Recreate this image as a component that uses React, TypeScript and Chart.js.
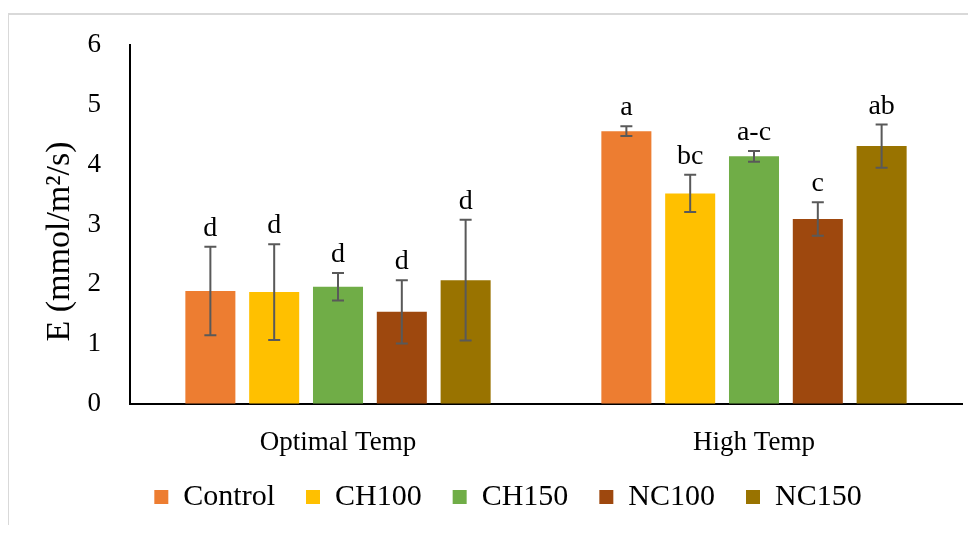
import React, { useEffect, useRef } from "react";
import { Chart, registerables } from "chart.js";

Chart.register(...registerables);

const categories = ["Optimal Temp", "High Temp"];
const seriesNames = ["Control", "CH100", "CH150", "NC100", "NC150"];
const seriesColors = ["#ED7D31", "#FFC000", "#70AD47", "#9E480E", "#997300"];
const controlValues = [1.89, 4.56];
const ch100Values = [1.87, 3.52];
const ch150Values = [1.96, 4.14];
const nc100Values = [1.54, 3.09];
const nc150Values = [2.07, 4.31];
const controlErr = [0.74, 0.08];
const ch100Err = [0.8, 0.31];
const ch150Err = [0.23, 0.09];
const nc100Err = [0.53, 0.28];
const nc150Err = [1.01, 0.36];
const controlLetters = ["d", "a"];
const ch100Letters = ["d", "bc"];
const ch150Letters = ["d", "a-c"];
const nc100Letters = ["d", "c"];
const nc150Letters = ["d", "ab"];
const yTicks = [0, 1, 2, 3, 4, 5, 6];

const allValues = [controlValues, ch100Values, ch150Values, nc100Values, nc150Values];
const allErrors = [controlErr, ch100Err, ch150Err, nc100Err, nc150Err];
const allLetters = [controlLetters, ch100Letters, ch150Letters, nc100Letters, nc150Letters];

const FONT = '"Liberation Serif", "Times New Roman", serif';

const errorBarPlugin = {
  id: "errorBars",
  afterDatasetsDraw(chart: any) {
    const ctx = chart.ctx;
    const yScale = chart.scales.y;
    chart.data.datasets.forEach((ds: any, di: number) => {
      const meta = chart.getDatasetMeta(di);
      meta.data.forEach((bar: any, i: number) => {
        const v = ds.data[i];
        const e = allErrors[di][i];
        const x = bar.x;
        const yt = yScale.getPixelForValue(v + e);
        const yb = yScale.getPixelForValue(v - e);
        ctx.save();
        ctx.strokeStyle = "#595959";
        ctx.lineWidth = 2;
        ctx.beginPath();
        ctx.moveTo(x, yt);
        ctx.lineTo(x, yb);
        ctx.moveTo(x - 6, yt);
        ctx.lineTo(x + 6, yt);
        ctx.moveTo(x - 6, yb);
        ctx.lineTo(x + 6, yb);
        ctx.stroke();
        ctx.font = `28px ${FONT}`;
        ctx.fillStyle = "#000";
        ctx.textAlign = "center";
        ctx.textBaseline = "alphabetic";
        ctx.fillText(allLetters[di][i], x, yt - 11);
        ctx.restore();
      });
    });
  },
};

export default function App() {
  const ref = useRef<HTMLCanvasElement | null>(null);
  useEffect(() => {
    if (!ref.current) return;
    Chart.defaults.font.family = FONT;
    const chart = new Chart(ref.current, {
      type: "bar",
      data: {
        labels: categories,
        datasets: seriesNames.map((name, i) => ({
          label: name,
          data: allValues[i],
          backgroundColor: seriesColors[i],
          borderWidth: 0,
          categoryPercentage: 0.767,
          barPercentage: 0.784,
        })),
      },
      options: {
        responsive: false,
        animation: false,
        devicePixelRatio: 1,
        layout: { padding: { top: 37, left: 46, right: 6, bottom: 3 } },
        plugins: {
          tooltip: { enabled: false },
          legend: {
            position: "bottom",
            title: {
              display: true,
              text: "",
              font: { size: 10, lineHeight: 1 },
              padding: { top: -9.5, bottom: -9.5 },
            },
            labels: {
              boxWidth: 14,
              boxHeight: 14,
              padding: 31,
              color: "#000",
              font: { size: 30, family: FONT },
            },
          },
        },
        scales: {
          x: {
            grid: { display: false, drawTicks: false },
            border: { display: true, color: "#000", width: 2 },
            ticks: { color: "#000", font: { size: 27, family: FONT }, padding: 23 },
            afterFit: (s: any) => {
              s.height = 56;
            },
          },
          y: {
            min: 0,
            max: 6,
            afterBuildTicks: (s: any) => {
              s.ticks = yTicks.map((v) => ({ value: v }));
            },
            grid: {
              display: true,
              drawOnChartArea: false,
              drawTicks: true,
              tickLength: 29,
              tickColor: "rgba(0,0,0,0)",
            },
            border: { display: true, color: "#000", width: 2 },
            ticks: { color: "#000", font: { size: 27, family: FONT }, padding: 0 },
            title: {
              display: true,
              text: "E (mmol/m²/s)    ",
              color: "#000",
              font: { size: 34, family: FONT },
              padding: { top: -14, bottom: 0 },
            },
            afterFit: (s: any) => {
              s.width = 76;
            },
          },
        },
      },
      plugins: [errorBarPlugin],
    });
    return () => chart.destroy();
  }, []);
  return (
    <div style={{ position: "relative", width: 960, height: 517 }}>
      <div
        style={{
          position: "absolute",
          left: -1,
          top: 5,
          right: 0,
          bottom: 0,
          borderTop: "2px solid #d9d9d9",
          borderLeft: "2px solid #d9d9d9",
        }}
      />
      <canvas ref={ref} width={960} height={517} style={{ position: "absolute", left: 0, top: 0 }} />
    </div>
  );
}
